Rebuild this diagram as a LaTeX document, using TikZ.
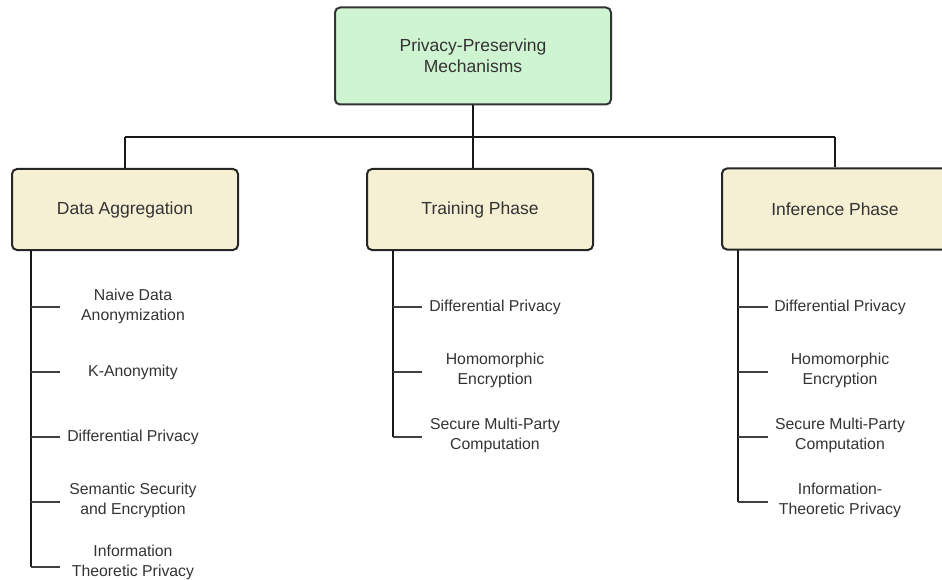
\documentclass[tikz,border=0pt]{standalone}
\usepackage{fontspec}
\setmainfont{Liberation Sans}
\begin{document}
\begin{tikzpicture}[x=1pt,y=-1pt,
  txt/.style={text=black!80},
  rootbox/.style={draw=black!80, line width=2pt, rounded corners=5pt, fill=rootfill,
    minimum width=276pt, minimum height=97pt, align=center, txt,
    font=\fontsize{17.5}{21}\selectfont},
  phasebox/.style={draw=black!85, line width=2pt, rounded corners=5pt, fill=phasefill,
    minimum width=226pt, minimum height=81pt, align=center, txt,
    font=\fontsize{17.5}{21}\selectfont},
  leaf/.style={align=center, txt, inner sep=0pt, font=\fontsize{15.8}{20}\selectfont},
  link/.style={draw=black!90, line width=1.2pt},
  tick/.style={draw=black!75, line width=1.6pt}
]
\definecolor{rootfill}{RGB}{207,244,209}
\definecolor{phasefill}{RGB}{245,239,212}
\useasboundingbox (0,0) rectangle (942,580);
\clip (0,0) rectangle (942,580);

% top level and phase boxes
\node[rootbox]  (root) at (473,56)  {Privacy-Preserving\\Mechanisms};
\node[phasebox] (da)   at (125,209.5) {Data Aggregation};
\node[phasebox] (tp)   at (480,209.5) {Training Phase};
\node[phasebox] (ip)   at (835,209) {Inference Phase};

% bus from the root to the three phases
\coordinate (busL) at (125,137);
\coordinate (busR) at (835,137);
\draw[link] (busL) -- (busR);
\draw[link] (root.south) -- (root.south |- busL);
\draw[link] (busL) -- (da.north);
\draw[link] (root.south |- busL) -- (root.south |- tp.north);
\draw[link] (busR) -- (ip.north);

% Data Aggregation branch
\coordinate (daT) at (31,250);
\foreach \n/\y in {1/307,2/372,3/437,4/502,5/567}
  \coordinate (da\n) at (60,\y);
\node[leaf] (dal1) at (133,306) {Naive Data\\Anonymization};
\node[leaf] (dal2) at (133,372) {K-Anonymity};
\node[leaf] (dal3) at (133,437) {Differential Privacy};
\node[leaf] (dal4) at (133,500) {Semantic Security\\and Encryption};
\node[leaf] (dal5) at (133,562) {Information\\Theoretic Privacy};
\draw[link] (daT) -- (daT |- da5);
\foreach \n in {1,...,5}
  \draw[tick] (daT |- da\n) -- (da\n);

% Training Phase branch
\coordinate (tpT) at (393,250);
\foreach \n/\y in {1/307,2/372,3/437}
  \coordinate (tp\n) at (422,\y);
\node[leaf] (tpl1) at (495,307) {Differential Privacy};
\node[leaf] (tpl2) at (495,370) {Homomorphic\\Encryption};
\node[leaf] (tpl3) at (495,435) {Secure Multi-Party\\Computation};
\draw[link] (tpT) -- (tpT |- tp3);
\foreach \n in {1,2,3}
  \draw[tick] (tpT |- tp\n) -- (tp\n);

% Inference Phase branch
\coordinate (ipT) at (738,250);
\foreach \n/\y in {1/307,2/372,3/437,4/502}
  \coordinate (ip\n) at (768,\y);
\node[leaf] (ipl1) at (840,307) {Differential Privacy};
\node[leaf] (ipl2) at (840,370) {Homomorphic\\Encryption};
\node[leaf] (ipl3) at (840,435) {Secure Multi-Party\\Computation};
\node[leaf] (ipl4) at (840,500) {Information-\\Theoretic Privacy};
\draw[link] (ipT) -- (ipT |- ip4);
\foreach \n in {1,...,4}
  \draw[tick] (ipT |- ip\n) -- (ip\n);
\end{tikzpicture}
\end{document}
